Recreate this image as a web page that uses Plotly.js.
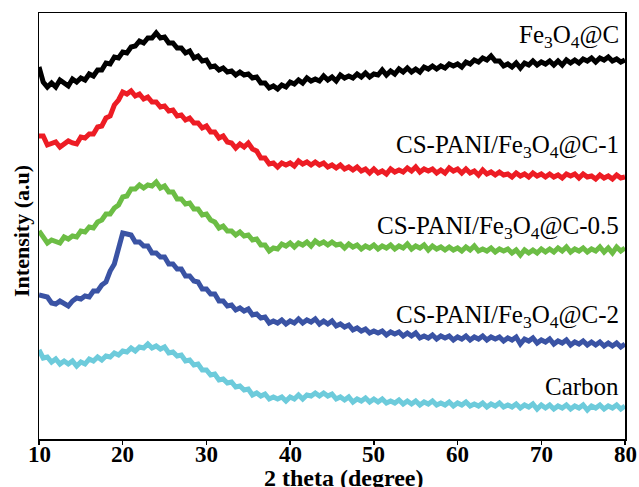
<!DOCTYPE html>
<html>
<head>
<meta charset="utf-8">
<script src="https://cdn.plot.ly/plotly-3.0.1.min.js"></script>
<style>html,body{margin:0;padding:0;background:#fff;}#chart{width:639px;height:487px;}</style>
</head>
<body>
<div id="chart"></div>
<script>
// 2-theta sampling grid (degrees), 10 to 80 in 0.5 steps
const twoTheta = [];
for (let i = 0; i <= 140; i++) twoTheta.push(10 + 0.5 * i);

const seriesNames = ["Fe<sub>3</sub>O<sub>4</sub>@C", "CS-PANI/Fe<sub>3</sub>O<sub>4</sub>@C-1", "CS-PANI/Fe<sub>3</sub>O<sub>4</sub>@C-0.5", "CS-PANI/Fe<sub>3</sub>O<sub>4</sub>@C-2", "Carbon"];

const fe3o4C = [372,357,352,356,352,359,356,353,360,357,361,359,365,363,369,369,376,375,382,381,387,386,392,393,398,396,401,401,406,401,402,396,396,391,391,386,388,381,383,378,379,372,373,369,371,367,368,364,367,364,365,361,362,356,356,351,353,350,354,352,357,355,359,356,361,358,360,358,363,359,362,358,364,361,363,361,365,362,366,362,365,364,369,364,368,365,370,367,371,367,370,367,372,370,373,370,373,371,375,373,375,372,377,375,379,377,381,379,383,378,378,373,375,372,376,371,376,374,378,374,377,375,378,374,378,374,379,376,379,376,380,378,381,377,381,379,382,378,380,377,379];

const csPani1 = [303,303,294,296,297,292,295,298,296,295,302,301,305,305,312,313,321,323,334,339,347,345,348,343,345,340,342,337,337,332,333,328,329,323,324,319,321,316,316,311,313,307,307,301,303,297,296,291,295,292,296,290,288,281,281,275,276,272,276,274,276,273,278,275,277,274,277,274,276,272,274,271,274,270,272,269,272,268,270,266,270,266,268,265,270,267,269,267,271,268,272,267,270,268,270,266,269,266,271,268,270,266,270,266,268,264,269,265,267,264,267,264,265,262,266,263,265,262,266,263,265,262,265,262,264,261,265,263,265,261,265,262,263,260,264,261,263,260,264,261,262];

const csPani05 = [208,201,196,199,198,196,202,200,203,202,208,207,212,211,217,219,225,225,231,234,242,243,250,250,254,251,254,253,257,251,253,247,247,240,240,235,236,230,230,224,225,219,217,211,213,208,208,204,207,203,204,199,200,194,194,188,191,190,195,193,196,192,196,194,197,193,198,195,197,194,197,194,195,191,195,192,194,190,193,191,194,190,193,191,194,190,193,191,195,190,193,191,194,189,193,190,192,189,192,189,191,188,192,189,193,188,190,188,191,187,190,188,190,186,189,184,189,186,189,186,190,187,190,187,191,188,192,187,190,188,191,187,190,188,192,187,191,186,192,188,191];

const csPani2 = [144,143,142,136,135,138,136,133,138,141,140,143,142,148,148,154,157,168,175,193,206,205,204,197,197,193,193,186,186,182,182,175,175,170,170,163,163,158,157,150,150,145,145,138,138,133,134,129,131,128,130,124,125,121,122,116,118,116,119,115,118,116,120,116,119,117,120,115,118,115,118,113,115,112,114,109,111,108,110,106,108,106,108,104,107,105,107,103,106,103,106,101,103,101,104,100,103,101,103,99,102,100,103,99,102,100,103,99,102,100,102,98,101,99,102,95,100,98,101,96,99,97,100,95,98,96,99,94,97,95,98,94,97,94,97,93,96,93,96,92,95];

const carbon = [89,81,82,77,80,75,78,75,78,73,77,75,80,78,82,79,83,82,86,84,88,87,91,88,92,91,95,91,93,90,92,86,87,83,84,78,79,74,75,69,69,64,65,59,60,56,57,52,53,49,50,44,46,43,45,40,42,40,42,38,42,40,44,40,44,43,46,43,46,43,45,40,42,39,42,37,40,38,41,37,40,37,40,36,38,36,39,35,38,35,38,34,37,35,38,34,36,34,37,33,36,34,37,33,35,33,36,32,35,33,36,32,34,32,35,31,34,32,35,30,34,31,34,30,33,31,34,30,33,31,34,29,33,31,34,30,33,31,34,30,33];

const xTicks = [10, 20, 30, 40, 50, 60, 70, 80];

const allSeries = [fe3o4C, csPani1, csPani05, csPani2, carbon];
const colors = ["#000000", "#ed1c24", "#6cbd45", "#3a53a4", "#6dcbdb"];
const labelY = [403, 293, 212, 123, 53];
const serif = "Liberation Serif, Times New Roman, serif";

const traces = allSeries.map((ys, i) => ({
  x: twoTheta, y: ys, type: "scatter", mode: "lines",
  line: {color: colors[i], width: 5}, name: seriesNames[i], showlegend: false,
  hoverinfo: "skip"
}));

const annotations = seriesNames.map((t, i) => ({
  x: 79.55, y: labelY[i], xref: "x", yref: "y", text: t, showarrow: false,
  xanchor: "right", yanchor: "middle",
  font: {family: serif, size: 25, color: "#000"}
}));
// x tick labels placed on the x axis scale
xTicks.forEach(v => annotations.push({
  x: v, y: 0, xref: "x", yref: "paper", text: "<b>" + v + "</b>", showarrow: false,
  xanchor: "center", yanchor: "top", yshift: -1,
  font: {family: serif, size: 23, color: "#000"}
}));
annotations.push({
  xref: "paper", yref: "paper", x: 0.52, y: -0.0915,
  text: "<b>2 theta (degree)</b>", showarrow: false, xanchor: "center", yanchor: "middle",
  font: {family: serif, size: 24, color: "#000"}
});
annotations.push({
  xref: "paper", yref: "paper", x: -0.031, y: 0.488, textangle: -90,
  text: "<b>Intensity (a.u)</b>", showarrow: false, xanchor: "center", yanchor: "middle",
  font: {family: serif, size: 22, color: "#000"}
});

const layout = {
  width: 639, height: 487,
  margin: {l: 39, r: 14, t: 13, b: 48, pad: 0},
  paper_bgcolor: "#fff", plot_bgcolor: "#fff",
  font: {family: serif, color: "#000"},
  xaxis: {
    range: [10, 80], tickvals: xTicks, showticklabels: false,
    ticks: "outside", ticklen: 4, tickwidth: 1.5, tickcolor: "#000",
    showline: true, linecolor: "#000", linewidth: 1.5, mirror: true,
    showgrid: false, zeroline: false
  },
  yaxis: {
    range: [0, 426], showticklabels: false, ticks: "",
    showline: true, linecolor: "#000", linewidth: 1.5, mirror: true,
    showgrid: false, zeroline: false
  },
  annotations: annotations
};

Plotly.newPlot("chart", traces, layout, {staticPlot: true, displayModeBar: false});
</script>
</body>
</html>
